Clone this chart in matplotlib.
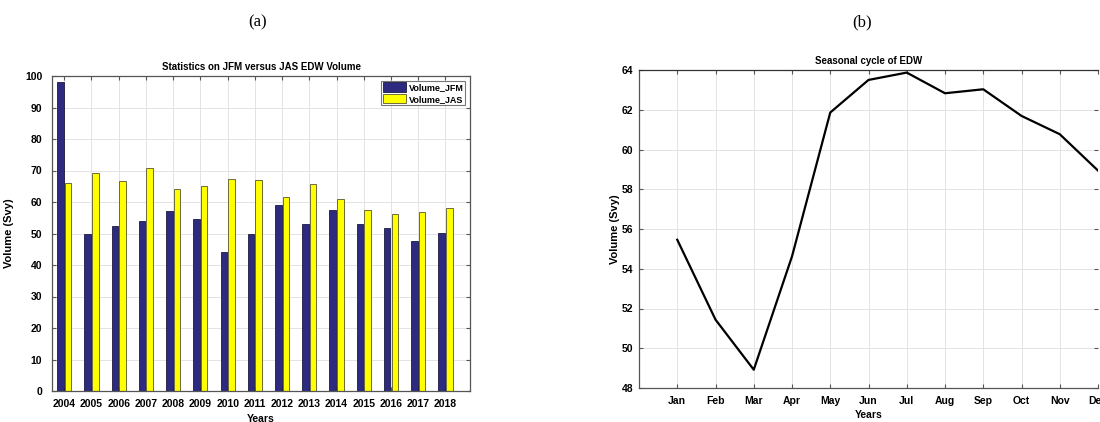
import numpy as np
import matplotlib
matplotlib.use('Agg')
import matplotlib.pyplot as plt

years = np.arange(2004, 2019)
volume_jfm = [98.1, 49.9, 52.5, 54.0, 57.0, 54.6, 44.2, 49.7, 59.2, 52.9, 57.5, 52.9, 51.7, 47.7, 50.2]
volume_jas = [66.0, 69.2, 66.8, 70.9, 64.1, 65.1, 67.3, 66.9, 61.7, 65.8, 60.8, 57.4, 56.2, 56.8, 58.0]

months = ['Jan', 'Feb', 'Mar', 'Apr', 'May', 'Jun', 'Jul', 'Aug', 'Sep', 'Oct', 'Nov', 'Dec']
seasonal = [55.46, 51.44, 48.92, 54.62, 61.86, 63.5, 63.87, 62.83, 63.03, 61.69, 60.77, 58.94]

plt.rcParams['font.family'] = ['Liberation Sans Narrow', 'Liberation Sans', 'DejaVu Sans']
plt.rcParams['font.weight'] = 'bold'

W, H = 1100, 422
fig = plt.figure(figsize=(W / 100, H / 100), dpi=100)


def box(x0, y0, x1, y1):
    # pixel box (top-left origin) -> figure fraction
    return [x0 / W, (H - y1) / H, (x1 - x0) / W, (y1 - y0) / H]


def matlab_style(ax):
    ax.grid(True, color='#e3e3e3', linewidth=0.7)
    ax.set_axisbelow(True)
    ax.tick_params(direction='in', top=True, right=True, length=3,
                   width=0.8, color='#555555', labelsize=7.5, pad=4)
    for s in ax.spines.values():
        s.set_color('#555555')
        s.set_linewidth(0.9)


# (a) grouped bars
ax1 = fig.add_axes(box(52, 76, 470, 391))
w = 0.24
ax1.bar(years - 0.14, volume_jfm, w, color='#2e2a80', edgecolor='#1a1a40',
        linewidth=0.6, label='Volume_JFM')
ax1.bar(years + 0.14, volume_jas, w, color='#ffff00', edgecolor='#555530',
        linewidth=0.6, label='Volume_JAS')
ax1.set_xlim(2003.55, 2018.9)
ax1.set_ylim(0, 100)
ax1.set_xticks(years)
ax1.set_yticks(np.arange(0, 101, 10))
matlab_style(ax1)
ax1.tick_params(axis='y', pad=7)
ax1.tick_params(axis='x', pad=6)
ax1.set_title('Statistics on JFM versus JAS EDW Volume', fontsize=7,
              fontweight='bold', pad=4)
ax1.set_xlabel('Years', fontsize=7.5, fontweight='bold', labelpad=3)
ax1.set_ylabel('Volume (Svy)', fontsize=8, fontweight='bold',
               family='Liberation Sans', labelpad=8)
leg = ax1.legend(loc='upper right', fontsize=6.5, frameon=True, fancybox=False,
                 edgecolor='#555555', handlelength=2.6, handleheight=1.3,
                 borderaxespad=0.5, borderpad=0.2, labelspacing=0.15,
                 handletextpad=0.3)
leg.get_frame().set_linewidth(0.8)

# (b) seasonal cycle
ax2 = fig.add_axes(box(639, 70, 1098, 388))
ax2.plot(np.arange(1, 13), seasonal, color='black', linewidth=1.6)
ax2.set_xlim(0, 12)
ax2.set_ylim(48, 64)
ax2.set_xticks(np.arange(1, 13))
ax2.set_xticklabels(months)
ax2.set_yticks(np.arange(48, 65, 2))
matlab_style(ax2)
ax2.tick_params(axis='x', pad=6)
ax2.spines['right'].set_visible(False)
ax2.spines['top'].set_color('#333333')
ax2.set_title('Seasonal cycle of EDW', fontsize=7, fontweight='bold', pad=4)
ax2.set_xlabel('Years', fontsize=7.5, fontweight='bold', labelpad=3)
ax2.set_ylabel('Volume (Svy)', fontsize=8, fontweight='bold',
               family='Liberation Sans', labelpad=1)

fig.text(258 / W, 1 - 22 / H, '(a)', family='Liberation Serif', fontsize=12,
         fontweight='normal', ha='center', va='center')
fig.text(862 / W, 1 - 22 / H, '(b)', family='Liberation Serif', fontsize=12,
         fontweight='normal', ha='center', va='center')

fig.savefig('out.png', dpi=100)
